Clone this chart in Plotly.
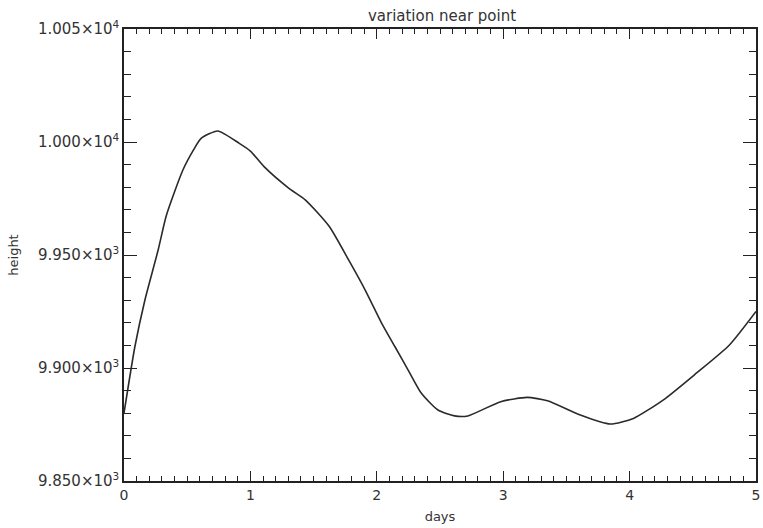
import plotly.graph_objects as go

days = [0, 0.086, 0.165, 0.27, 0.335, 0.466, 0.55, 0.61, 0.742, 0.912, 1.0, 1.108,
        1.305, 1.436, 1.623, 1.777, 1.908, 2.039, 2.144, 2.248, 2.353, 2.484, 2.615,
        2.72, 2.98, 3.19, 3.35, 3.61, 3.847, 4.03, 4.265, 4.528, 4.79, 5.0]
heights = [9880, 9909.4, 9930, 9952.2, 9967.5, 9987.6, 9996.5, 10001.6, 10004.9,
           9999.4, 9996, 9989.1, 9979.5, 9974.3, 9962.7, 9947.8, 9934.5, 9919.8,
           9909.4, 9899.1, 9888.8, 9881.4, 9878.8, 9878.8, 9885.1, 9887, 9885.5,
           9879.2, 9875.2, 9877.7, 9885.8, 9897.7, 9910.2, 9925]

x_ticks = [0, 1, 2, 3, 4, 5]
y_ticks = [9850, 9900, 9950, 10000, 10050]
y_labels = ["9.850×10<sup>3</sup>", "9.900×10<sup>3</sup>", "9.950×10<sup>3</sup>",
            "1.000×10<sup>4</sup>", "1.005×10<sup>4</sup>"]

fig = go.Figure()
fig.add_trace(go.Scatter(x=days, y=heights, mode="lines",
                         line=dict(color="#2a2a2a", width=1.6, shape="spline", smoothing=0.6),
                         showlegend=False, hoverinfo="skip"))

font = "DejaVu Sans"
fig.update_layout(
    width=763, height=528,
    margin=dict(l=124, r=3, t=29, b=47),
    paper_bgcolor="white", plot_bgcolor="white",
    title=dict(text="variation near point", x=0.5793, xanchor="center", y=0.97, yanchor="middle",
               font=dict(family=font, size=15, color="#333333")),
    font=dict(family=font, color="#333333"),
)
fig.update_xaxes(
    range=[0, 5], tickvals=x_ticks, ticktext=[str(v) for v in x_ticks],
    ticks="inside", ticklen=10, tickwidth=1.2, tickcolor="#222222",
    minor=dict(dtick=0.1, ticks="inside", ticklen=5, tickwidth=1, tickcolor="#222222"),
    showline=True, linecolor="#222222", linewidth=1.5, mirror="ticks",
    showgrid=False, zeroline=False,
    tickfont=dict(family=font, size=14, color="#333333"),
    title=dict(text="days", font=dict(family=font, size=13, color="#333333"), standoff=10),
)
fig.update_yaxes(
    range=[9850, 10050], tickvals=y_ticks, ticktext=y_labels,
    ticks="inside", ticklen=13, tickwidth=1.2, tickcolor="#222222",
    minor=dict(dtick=10, ticks="inside", ticklen=7, tickwidth=1, tickcolor="#222222"),
    showline=True, linecolor="#222222", linewidth=1.5, mirror="ticks",
    showgrid=False, zeroline=False,
    tickfont=dict(family=font, size=15, color="#333333"),
    title=dict(text="height", font=dict(family=font, size=13, color="#333333"), standoff=16),
)

fig.write_html("out.html")
